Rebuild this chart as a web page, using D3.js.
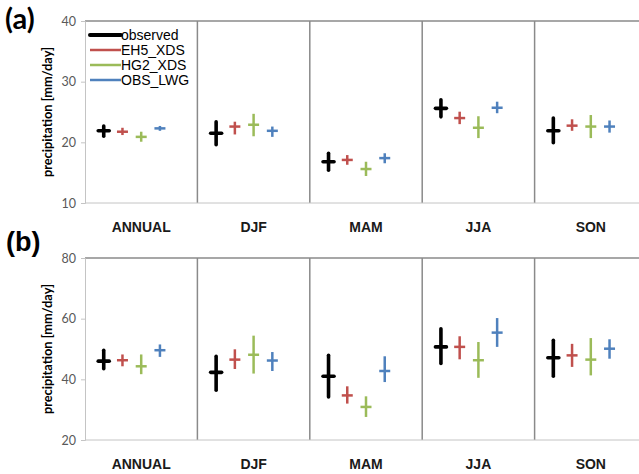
<!DOCTYPE html>
<html>
<head>
<script src="https://d3js.org/d3.v7.min.js"></script>
<style>
body { margin: 0; background: white; }
</style>
</head>
<body>
<div id="chart"></div>
<script>
/* Data */
var categories = ["ANNUAL", "DJF", "MAM", "JJA", "SON"];
var seriesNames = ["observed", "EH5_XDS", "HG2_XDS", "OBS_LWG"];
var seriesColors = ["#000000", "#c0504d", "#9bbb59", "#4f81bd"];

/* panel (a) */
var a_obs_mid = [21.9, 21.5, 16.8, 25.6, 21.9];
var a_obs_lo  = [21.0, 19.6, 15.4, 24.2, 19.95];
var a_obs_hi  = [22.7, 23.4, 18.2, 27.0, 24.0];
var a_eh5_mid = [21.75, 22.6, 17.1, 24.0, 22.75];
var a_eh5_lo  = [21.2, 21.3, 16.3, 23.0, 21.9];
var a_eh5_hi  = [22.4, 23.4, 17.9, 25.05, 23.8];
var a_hg2_mid = [20.9, 22.9, 15.6, 22.4, 22.6];
var a_hg2_lo  = [20.1, 21.0, 14.45, 20.7, 20.7];
var a_hg2_hi  = [21.75, 24.7, 16.8, 24.3, 24.5];
var a_lwg_mid = [22.3, 21.9, 17.4, 25.7, 22.6];
var a_lwg_lo  = [21.9, 20.9, 16.55, 24.8, 21.6];
var a_lwg_hi  = [22.7, 22.6, 18.2, 26.7, 23.6];
var a_ticks = [10, 20, 30, 40];

/* panel (b) */
var b_obs_mid = [46.0, 42.3, 41.0, 50.7, 47.1];
var b_obs_lo  = [43.5, 36.4, 34.2, 45.2, 41.0];
var b_obs_hi  = [49.6, 47.6, 47.9, 56.7, 52.9];
var b_eh5_mid = [46.3, 46.5, 34.7, 50.7, 47.9];
var b_eh5_lo  = [44.3, 43.4, 32.0, 46.6, 44.1];
var b_eh5_hi  = [48.2, 49.9, 37.7, 54.2, 51.7];
var b_hg2_mid = [44.3, 48.1, 30.9, 46.3, 46.5];
var b_hg2_lo  = [41.7, 41.9, 27.6, 40.5, 41.3];
var b_hg2_hi  = [48.2, 54.4, 34.4, 52.3, 53.6];
var b_lwg_mid = [49.6, 46.2, 42.75, 55.4, 50.1];
var b_lwg_lo  = [47.4, 42.75, 39.1, 50.7, 46.8];
var b_lwg_hi  = [51.5, 49.0, 47.6, 60.2, 53.2];
var b_ticks = [20, 40, 60, 80];

var W = 639, H = 474;
var svg = d3.select("#chart").append("svg")
    .attr("width", W)
    .attr("height", H);

var left = 85, bandW = 112.4;
var xBand = d3.scaleBand()
    .domain(categories)
    .range([left, left + bandW * categories.length])
    .padding(0);

function buildSeries(mids, los, his) {
    return seriesNames.map(function(name, i) {
        return { name: name, color: seriesColors[i],
                 mid: mids[i], lo: los[i], hi: his[i], idx: i };
    });
}

function drawPanel(opt) {
    var g = svg.append("g");
    var y = d3.scaleLinear()
        .domain([opt.ticks[0], opt.ticks[opt.ticks.length - 1]])
        .range([opt.bottom, opt.top]);

    /* top border and dividers */
    g.append("line")
        .attr("x1", left).attr("x2", W)
        .attr("y1", opt.top).attr("y2", opt.top)
        .attr("stroke", "#8a8a8a").attr("stroke-width", 1.5);
    categories.slice(1).forEach(function(c) {
        g.append("line")
            .attr("x1", xBand(c)).attr("x2", xBand(c))
            .attr("y1", opt.top).attr("y2", opt.bottom)
            .attr("stroke", "#8a8a8a").attr("stroke-width", 1.5);
    });

    /* y axis */
    var yAxis = d3.axisLeft(y).tickValues(opt.ticks).tickSize(4).tickPadding(5);
    var ya = g.append("g")
        .attr("transform", "translate(" + left + ",0)")
        .call(yAxis);
    ya.select(".domain").attr("stroke", "#c4c4c4");
    ya.selectAll(".tick line").attr("stroke", "#c4c4c4");
    ya.selectAll(".tick text")
        .attr("fill", "#595959")
        .style("font-family", "Lato, 'Open Sans', sans-serif")
        .style("font-size", "12.5px");

    /* x axis */
    var xAxis = d3.axisBottom(xBand).tickSize(0).tickPadding(19);
    var xa = g.append("g")
        .attr("transform", "translate(0," + opt.bottom + ")")
        .call(xAxis);
    xa.select(".domain").attr("stroke", "#c4c4c4").attr("d", "M" + left + ",0H" + W);
    xa.selectAll(".tick text")
        .attr("fill", "#1a1a1a")
        .style("font-family", "'Liberation Sans', Arial, sans-serif")
        .style("font-weight", "bold")
        .style("font-size", "14px");

    /* y label */
    g.append("text")
        .attr("transform", "translate(52," + ((opt.top + opt.bottom) / 2) + ") rotate(-90)")
        .attr("text-anchor", "middle")
        .style("font-family", "Lato, 'Open Sans', sans-serif")
        .style("font-weight", "bold")
        .style("font-size", "12.8px")
        .attr("fill", "#000")
        .text("precipitation [mm/day]");

    /* panel label */
    g.append("text")
        .attr("x", opt.labelX).attr("y", opt.labelY)
        .style("font-family", opt.labelFont)
        .style("font-weight", "bold")
        .style("font-size", opt.labelSize)
        .attr("fill", "#000")
        .text(opt.label);

    /* crosses */
    opt.series.forEach(function(s) {
        var sw = s.idx === 0 ? 3.6 : 2.5;
        categories.forEach(function(c, j) {
            var cx = xBand(c) + xBand.bandwidth() * (s.idx + 1) / 6;
            g.append("line")
                .attr("x1", cx).attr("x2", cx)
                .attr("y1", y(s.lo[j])).attr("y2", y(s.hi[j]))
                .attr("stroke", s.color).attr("stroke-width", sw)
                .attr("stroke-linecap", s.idx === 0 ? "round" : "butt");
            g.append("line")
                .attr("x1", cx - 5.5).attr("x2", cx + 5.5)
                .attr("y1", y(s.mid[j])).attr("y2", y(s.mid[j]))
                .attr("stroke", s.color).attr("stroke-width", sw)
                .attr("stroke-linecap", s.idx === 0 ? "round" : "butt");
        });
    });
    return g;
}

drawPanel({
    top: 21, bottom: 203, ticks: a_ticks,
    label: "(a)", labelX: 5, labelY: 29, labelSize: "29px",
    labelFont: "Lato, 'Open Sans', sans-serif",
    series: [
        { idx: 0, color: seriesColors[0], mid: a_obs_mid, lo: a_obs_lo, hi: a_obs_hi },
        { idx: 1, color: seriesColors[1], mid: a_eh5_mid, lo: a_eh5_lo, hi: a_eh5_hi },
        { idx: 2, color: seriesColors[2], mid: a_hg2_mid, lo: a_hg2_lo, hi: a_hg2_hi },
        { idx: 3, color: seriesColors[3], mid: a_lwg_mid, lo: a_lwg_lo, hi: a_lwg_hi }
    ]
});

drawPanel({
    top: 258, bottom: 440, ticks: b_ticks,
    label: "(b)", labelX: 6, labelY: 251, labelSize: "27px",
    labelFont: "'Liberation Sans', Arial, sans-serif",
    series: [
        { idx: 0, color: seriesColors[0], mid: b_obs_mid, lo: b_obs_lo, hi: b_obs_hi },
        { idx: 1, color: seriesColors[1], mid: b_eh5_mid, lo: b_eh5_lo, hi: b_eh5_hi },
        { idx: 2, color: seriesColors[2], mid: b_hg2_mid, lo: b_hg2_lo, hi: b_hg2_hi },
        { idx: 3, color: seriesColors[3], mid: b_lwg_mid, lo: b_lwg_lo, hi: b_lwg_hi }
    ]
});

/* legend */
var legend = svg.append("g");
seriesNames.forEach(function(name, i) {
    var ly = 35 + i * 15;
    legend.append("line")
        .attr("x1", 90).attr("x2", 121)
        .attr("y1", ly).attr("y2", ly)
        .attr("stroke", seriesColors[i])
        .attr("stroke-width", i === 0 ? 4 : 2.5)
        .attr("stroke-linecap", i === 0 ? "round" : "butt");
    legend.append("text")
        .attr("x", 121).attr("y", ly)
        .attr("dy", "0.36em")
        .style("font-family", "'Liberation Sans', Arial, sans-serif")
        .style("font-size", "14px")
        .attr("fill", "#000")
        .text(name);
});
</script>
</body>
</html>
